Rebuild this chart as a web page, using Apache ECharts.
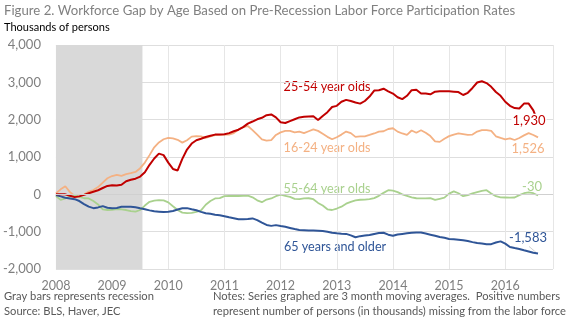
<!DOCTYPE html>
<html>
<head>
<meta charset="utf-8">
<script src="https://cdn.jsdelivr.net/npm/echarts@6/dist/echarts.min.js"></script>
<style>
  html, body { margin: 0; padding: 0; background: #fff; }
  #chart { width: 570px; height: 321px; }
</style>
</head>
<body>
<div id="chart"></div>
<script>
// Monthly series, Jan 2008 - Aug 2016, 3-month moving averages (thousands of persons)
const firstYear = 2008;
const yearTicks = [2008, 2009, 2010, 2011, 2012, 2013, 2014, 2015, 2016];
const recession = [2008.0, 2009.54];

const ages2554 = [
  0, 0, 0, -40, -75, -55, -15, 30, 70, 110, 170, 225,
  245, 235, 255, 350, 390, 420, 475, 590, 790, 960, 1090, 1050,
  850, 680, 640, 950, 1200, 1360, 1450, 1490, 1535, 1570, 1600, 1600,
  1610, 1640, 1690, 1730, 1800, 1895, 1950, 2010, 2050, 2120, 2140, 2060,
  1930, 1910, 1960, 2010, 2060, 2075, 2085, 2090, 1990, 2100, 2200, 2340,
  2370, 2480, 2530, 2500, 2460, 2430, 2500, 2620, 2780, 2790, 2830, 2760,
  2700, 2600, 2550, 2640, 2790, 2800, 2700, 2700, 2680, 2750, 2760, 2760,
  2760, 2750, 2740, 2660, 2720, 2850, 2995, 3030, 2980, 2880, 2740, 2640,
  2480, 2370, 2310, 2300, 2430, 2430, 2250, 1930
];
const ages1624 = [
  27, 134, 215, 60, -40, -55, -5, 75, 115, 195, 315, 430,
  490, 520, 495, 540, 565, 600, 700, 850, 1050, 1260, 1390, 1475,
  1515, 1497, 1460, 1385, 1450, 1545, 1560, 1555, 1515, 1550, 1585, 1590,
  1600, 1600, 1640, 1735, 1800, 1830, 1720, 1600, 1475, 1440, 1450, 1590,
  1660, 1700, 1700, 1660, 1680, 1640, 1690, 1740, 1700, 1620, 1540, 1475,
  1530, 1600, 1680, 1640, 1540, 1550, 1555, 1590, 1630, 1680, 1690, 1750,
  1770, 1680, 1630, 1590, 1710, 1650, 1715, 1650, 1560, 1420, 1405, 1490,
  1560, 1600, 1630, 1610, 1590, 1600, 1680, 1720, 1720, 1700, 1555, 1510,
  1470, 1500, 1455, 1510, 1580, 1640, 1590, 1526
];
const ages5564 = [
  -45, -150, -110, -60, -40, -70, -105, -110, -180, -270, -400, -420,
  -415, -395, -400, -420, -450, -465, -420, -300, -200, -170, -155, -160,
  -215, -320, -420, -490, -505, -495, -470, -430, -280, -180, -110, -100,
  -50, -45, -45, -45, -40, -35, -80, -160, -210, -140, -110, -50,
  -10, -40, -70, -120, -130, -110, -105, -130, -230, -300, -400, -420,
  -380, -330, -250, -200, -160, -145, -140, -130, -100, -40, 40, 110,
  100, 60, 0, -40, -80, -105, -110, -110, -100, -150, -120, -90,
  20, 80, 30, -50, -20, 25, 60, 90, 110, 20, -50, -80,
  -85, -90, -85, -20, 30, 50, 30, -30
];
const ages65plus = [
  -20, -55, -90, -110, -130, -180, -260, -330, -370, -350, -315, -360,
  -375, -365, -335, -332, -335, -348, -375, -400, -430, -455, -465, -475,
  -465, -445, -405, -375, -370, -400, -425, -470, -505, -520, -545, -560,
  -585, -615, -640, -665, -670, -660, -645, -690, -760, -820, -845, -825,
  -850, -870, -900, -930, -955, -960, -970, -970, -975, -985, -1000, -1030,
  -1045, -1055, -1060, -1100, -1150, -1120, -1105, -1090, -1060, -1035, -1030, -1080,
  -1110, -1075, -1060, -1045, -1030, -1020, -1025, -1050, -1080, -1110, -1145, -1165,
  -1195, -1205, -1215, -1230, -1250, -1280, -1305, -1320, -1335, -1335, -1290, -1260,
  -1320, -1410, -1440, -1465, -1500, -1530, -1565, -1583
];

const FONT = 'Lato, "Open Sans", sans-serif';
const fmt = v => Number(v).toLocaleString('en-US');
const toPairs = arr => arr.map((v, i) => [firstYear + i / 12, v]);

function lineSeries(name, values, color, width, labelOffset, extraLabel) {
  return {
    name: name,
    type: 'line',
    data: toPairs(values),
    showSymbol: false,
    smooth: false,
    lineStyle: { color: color, width: width },
    itemStyle: { color: color },
    z: 3,
    endLabel: Object.assign({
      show: true,
      formatter: p => fmt(p.value[1]),
      color: color,
      fontFamily: FONT,
      fontSize: 13,
      align: 'center',
      verticalAlign: 'middle',
      distance: 0,
      offset: labelOffset
    }, extraLabel || {})
  };
}

const chart = echarts.init(document.getElementById('chart'), null, { renderer: 'canvas' });

const option = {
  animation: false,
  backgroundColor: '#ffffff',
  textStyle: { fontFamily: FONT },
  grid: { left: 52, right: 17, top: 45, bottom: 52, containLabel: false },
  xAxis: {
    type: 'value',
    min: yearTicks[0],
    max: 2016.85,
    interval: 1,
    axisLine: { show: false },
    axisTick: { show: false },
    splitLine: { show: true, lineStyle: { color: '#e6e6e6', width: 1 } },
    axisLabel: {
      color: '#7f7f7f', fontSize: 12.5, fontFamily: FONT, margin: 10,
      showMaxLabel: false,
      formatter: v => (yearTicks.indexOf(Math.round(v)) >= 0 ? String(Math.round(v)) : '')
    }
  },
  yAxis: {
    type: 'value',
    min: -2000,
    max: 4000,
    interval: 1000,
    axisLine: { show: false },
    axisTick: { show: false },
    splitLine: { show: true, lineStyle: { color: '#dedede', width: 1 } },
    axisLabel: { color: '#7f7f7f', fontSize: 13, fontFamily: FONT, margin: 15, formatter: v => fmt(v) }
  },
  series: [
    {
      name: 'Recession',
      type: 'line',
      data: [],
      silent: true,
      z: 1,
      markArea: {
        silent: true,
        itemStyle: { color: '#d9d9d9' },
        data: [[{ xAxis: recession[0], yAxis: -2000 }, { xAxis: recession[1], yAxis: 4000 }]]
      },
      markLine: {
        silent: true,
        symbol: 'none',
        label: { show: false },
        lineStyle: { color: '#d0d0d0', width: 1, type: 'solid' },
        data: [{ yAxis: 0 }]
      }
    },
    lineSeries('16-24 year olds', ages1624, '#f4b183', 1.8, [-10, 11]),
    lineSeries('55-64 year olds', ages5564, '#a9d18e', 1.8, [-6, -9]),
    lineSeries('65 years and older', ages65plus, '#2f5597', 2, [-10, -15.5]),
    lineSeries('25-54 year olds', ages2554, '#c00000', 2, [-9, -1],
      { backgroundColor: '#ffffff', padding: [1, 1] })
  ],
  graphic: [
    { type: 'text', left: 4, top: 4, style: { text: 'Figure 2. Workforce Gap by Age Based on Pre-Recession Labor Force Participation Rates', fill: '#808080', font: '13.2px ' + FONT } },
    { type: 'text', left: 4, top: 22, style: { text: 'Thousands of persons', fill: '#000000', font: '11px ' + FONT } },
    { type: 'text', left: 4, top: 291, style: { text: 'Gray bars represents recession', fill: '#595959', font: '11.2px ' + FONT } },
    { type: 'text', left: 4, top: 306, style: { text: 'Source: BLS, Haver, JEC', fill: '#595959', font: '11.2px ' + FONT } },
    { type: 'text', left: 213, top: 291, style: { text: 'Notes: Series graphed are 3 month moving averages.  Positive numbers', fill: '#595959', font: '11.2px ' + FONT } },
    { type: 'text', left: 213, top: 306, style: { text: 'represent number of persons (in thousands) missing from the labor force', fill: '#595959', font: '11.2px ' + FONT } },
    { type: 'text', x: 327, y: 87, style: { text: '25-54 year olds', fill: '#c00000', font: '12.6px ' + FONT, textAlign: 'center', textVerticalAlign: 'middle' } },
    { type: 'text', x: 327, y: 148, style: { text: '16-24 year olds', fill: '#f4b183', font: '12.6px ' + FONT, textAlign: 'center', textVerticalAlign: 'middle' } },
    { type: 'text', x: 327, y: 189, style: { text: '55-64 year olds', fill: '#a9d18e', font: '12.6px ' + FONT, textAlign: 'center', textVerticalAlign: 'middle' } },
    { type: 'text', x: 335, y: 247, style: { text: '65 years and older', fill: '#2f5597', font: '12.6px ' + FONT, textAlign: 'center', textVerticalAlign: 'middle' } }
  ]
};

chart.setOption(option);

// Leader line from the 65+ end value label to the end of its line
const lastIdx = ages65plus.length - 1;
const endPt = chart.convertToPixel({ gridIndex: 0 }, [firstYear + lastIdx / 12, ages65plus[lastIdx]]);
chart.setOption({
  graphic: option.graphic.concat([{
    type: 'line',
    shape: { x1: endPt[0] - 9, y1: endPt[1] - 7, x2: endPt[0] - 2, y2: endPt[1] - 1 },
    style: { stroke: '#d0d0d0', lineWidth: 1 },
    z: 2
  }])
});
</script>
</body>
</html>
